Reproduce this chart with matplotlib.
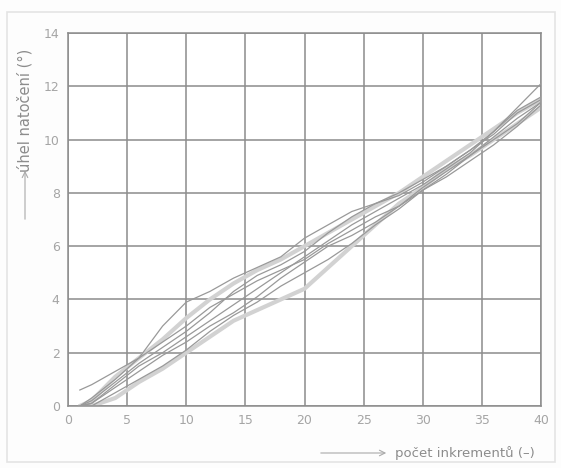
import matplotlib
matplotlib.use("Agg")
import matplotlib.pyplot as plt
from matplotlib.patches import Rectangle, FancyArrowPatch

# pocet inkrementu (spolecna osa x)
inkrementy = [1, 2, 4, 6, 8, 10, 12, 14, 16, 18, 20, 22, 24, 26, 28, 30, 32, 34, 36, 38, 40]

# tenke krivky (mereni)
mereni = [
    [0.6, 0.8, 1.3, 1.8, 2.4, 3.0, 3.7, 4.2, 4.7, 5.1, 5.5, 6.1, 6.6, 7.1, 7.5, 8.1, 8.7, 9.4, 10.1, 10.8, 11.4],
    [0.0, 0.3, 1.0, 1.8, 3.0, 3.9, 4.3, 4.8, 5.2, 5.6, 6.3, 6.8, 7.3, 7.6, 7.9, 8.4, 9.0, 9.6, 10.3, 11.2, 12.1],
    [0.0, 0.2, 0.9, 1.6, 2.2, 2.8, 3.5, 4.3, 4.9, 5.3, 5.8, 6.5, 7.1, 7.6, 8.0, 8.5, 9.0, 9.6, 10.2, 11.0, 11.5],
    [0.0, 0.1, 0.8, 1.5, 2.0, 2.6, 3.2, 3.8, 4.4, 5.0, 5.6, 6.2, 6.8, 7.3, 7.8, 8.3, 8.9, 9.5, 10.3, 11.1, 11.6],
    [0.0, 0.0, 0.5, 1.0, 1.5, 2.1, 2.8, 3.4, 3.9, 4.5, 5.0, 5.5, 6.1, 6.8, 7.4, 8.1, 8.6, 9.2, 9.8, 10.5, 11.3],
    [0.0, 0.1, 0.7, 1.3, 1.9, 2.4, 3.0, 3.5, 4.1, 4.8, 5.4, 6.0, 6.4, 6.9, 7.5, 8.2, 8.8, 9.4, 10.0, 10.6, 11.4],
]
# silne svetle krivky
obalky = [
    [0.0, 0.0, 0.3, 0.9, 1.4, 2.0, 2.6, 3.2, 3.6, 4.0, 4.4, 5.2, 6.0, 6.8, 7.6, 8.2, 8.9, 9.4, 10.0, 10.6, 11.2],
    [0.0, 0.2, 1.1, 1.8, 2.5, 3.3, 4.0, 4.6, 5.1, 5.5, 6.0, 6.5, 7.0, 7.5, 8.0, 8.6, 9.2, 9.8, 10.4, 11.0, 11.5],
]

x_ticks = [0, 5, 10, 15, 20, 25, 30, 35, 40]
y_ticks = [0, 2, 4, 6, 8, 10, 12, 14]

fig = plt.figure(figsize=(5.61, 4.68), dpi=100, facecolor="#fdfdfd")
fig.patches.append(Rectangle((7 / 561, 1 - 462 / 468), 548 / 561, 450 / 468,
                             transform=fig.transFigure, fill=False,
                             edgecolor="#e4e4e4", lw=1.2))
ax = fig.add_axes([68 / 561, 1 - 406 / 468, 473 / 561, 373 / 468])
ax.set_facecolor("white")

for y in obalky:
    ax.plot(inkrementy, y, color="#d2d2d2", lw=3.0, solid_capstyle="round", zorder=2)
for y in mereni:
    ax.plot(inkrementy, y, color="#999999", lw=0.9, zorder=3)

ax.set_xlim(0, 40); ax.set_ylim(0, 14)
ax.set_xticks(x_ticks); ax.set_yticks(y_ticks)
ax.grid(True, color="#8c8c8c", lw=1.1, zorder=1)
ax.set_axisbelow(True)
for s in ax.spines.values():
    s.set_color("#8c8c8c"); s.set_linewidth(1.1)
ax.tick_params(length=0, pad=6, labelsize=9, labelcolor="#a5a5a5")

# popisky os se sipkou
fig.text(395 / 561, 1 - 453 / 468, "počet inkrementů (–)", fontsize=9.5, color="#8c8c8c",
         va="center", ha="left")
fig.add_artist(FancyArrowPatch(
    (318 / 561, 1 - 453 / 468), (389 / 561, 1 - 453 / 468), transform=fig.transFigure,
    arrowstyle="->", mutation_scale=10, color="#aaaaaa", lw=0.8))
fig.text(25 / 561, 1 - 172 / 468, "úhel natočení (°)", fontsize=10.5, color="#8c8c8c",
         rotation=90, va="bottom", ha="center")
fig.add_artist(FancyArrowPatch(
    (25 / 561, 1 - 222 / 468), (25 / 561, 1 - 168 / 468), transform=fig.transFigure,
    arrowstyle="->", mutation_scale=10, color="#aaaaaa", lw=0.8))

fig.savefig("out.png", dpi=100, facecolor=fig.get_facecolor())
